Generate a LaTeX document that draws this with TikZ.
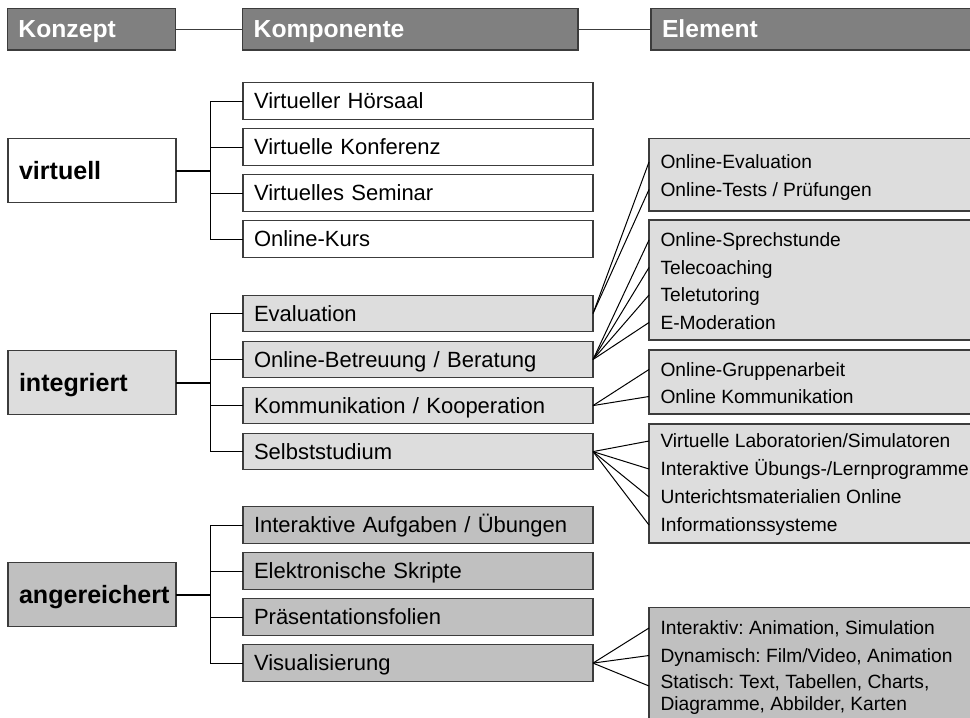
\documentclass[tikz,border=0pt]{standalone}
\usepackage{fontspec}
\setmainfont{Liberation Sans}
\usepackage{tikz}
\usetikzlibrary{positioning,calc}
\frenchspacing
\definecolor{hdgray}{HTML}{808080}
\definecolor{ltgray}{HTML}{DDDDDD}
\definecolor{mdgray}{HTML}{C0C0C0}
\definecolor{lngray}{HTML}{3C3C3C}
\tikzset{
	box/.style={draw=lngray, line width=0.9pt, outer sep=0pt},
	head/.style={box, fill=hdgray, text=white, anchor=west, align=left,
		font=\bfseries\fontsize{18.5}{21}\selectfont,
		minimum height=31.3pt, text height=13.2pt, text depth=0pt, inner xsep=8.25pt},
	konzept/.style={box, anchor=west, align=left, text width=109.5pt,
		font=\bfseries\fontsize{18.8}{21}\selectfont,
		minimum height=48pt, text height=13.4pt, text depth=0pt, inner xsep=8.25pt},
	komp/.style={box, align=left, text width=246pt,
		font=\fontsize{16.5}{19}\selectfont,
		minimum height=27.4pt, text height=11.8pt, text depth=0pt, inner xsep=8.25pt},
	elbox/.style={box, anchor=north west, minimum width=270pt},
	item/.style={anchor=west, inner xsep=8.25pt, inner ysep=0pt,
		text height=10.2pt, text depth=0pt, font=\fontsize{14.4}{16}\selectfont},
	virt/.style={fill=white},
	integ/.style={fill=ltgray},
	anger/.style={fill=mdgray},
	hdline/.style={draw=lngray, line width=1pt},
	stem/.style={line width=1.5pt}
}

\begin{document}
\begin{tikzpicture}[x=0.75pt,y=0.75pt,line width=0.75pt,node distance=9.5 and 9.5]
	\useasboundingbox (0,0) rectangle (970,-717);
	\clip (0,0) rectangle (970,-717);
	% Kopfzeile
	\node[head, text width=109.5pt] (konzepthd) at (7.5,-29.2) {Konzept};
	\node[head, text width=235pt] (komphd) at (242.7,-29.2) {Komponente};
	\node[head, text width=320pt] (elemhd) at (651,-29.2) {Element};
	\draw[hdline] (konzepthd) -- (komphd);
	\draw[hdline] (komphd) -- (elemhd);

	% virtuell
	\node[konzept, virt] (virtuell) at (8,-170.5) {virtuell};
	\node[komp, virt, anchor=west] (hoersaal) at (243,-101) {Virtueller Hörsaal};
	\node[komp, virt, below=of hoersaal] (konferenz) {Virtuelle Konferenz};
	\node[komp, virt, below=of konferenz] (seminar) {Virtuelles Seminar};
	\node[komp, virt, below=of seminar] (kurs) {Online-Kurs};
	\coordinate (vsplit) at (210,-170.5);
	\draw[stem] (virtuell) -- (vsplit);
	\draw (hoersaal.west) -| (vsplit |- kurs.west) -- (kurs.west);
	\foreach \k in {konferenz,seminar} \draw (\k.west) -- (\k.west -| vsplit);

	% integriert
	\node[konzept, integ] (integriert) at (8,-382.5) {integriert};
	\node[komp, integ, anchor=west] (evaluation) at (243,-313.5) {Evaluation};
	\node[komp, integ, below=of evaluation] (betreuung) {Online-Betreuung / Beratung};
	\node[komp, integ, below=of betreuung] (kommunikation) {Kommunikation / Kooperation};
	\node[komp, integ, below=of kommunikation] (selbst) {Selbststudium};
	\coordinate (isplit) at (210,-382.5);
	\draw[stem] (integriert) -- (isplit);
	\draw (evaluation.west) -| (isplit |- selbst.west) -- (selbst.west);
	\foreach \k in {betreuung,kommunikation} \draw (\k.west) -- (\k.west -| isplit);

	% angereichert
	\node[konzept, anger] (angereichert) at (8,-594.5) {angereichert};
	\node[komp, anger, anchor=west] (aufgaben) at (243,-525) {Interaktive Aufgaben / Übungen};
	\node[komp, anger, below=of aufgaben] (skripte) {Elektronische Skripte};
	\node[komp, anger, below=of skripte] (folien) {Präsentationsfolien};
	\node[komp, anger, below=of folien] (visual) {Visualisierung};
	\coordinate (asplit) at (210,-594.5);
	\draw[stem] (angereichert) -- (asplit);
	\draw (aufgaben.west) -| (asplit |- visual.west) -- (visual.west);
	\foreach \k in {skripte,folien} \draw (\k.west) -- (\k.west -| asplit);

	% Elemente
	\node[elbox, integ, minimum height=54.5pt] (evalbox) at (649,-138.3) {};
	\node[item] (oeval) at (649,-162) {Online-Evaluation};
	\node[item] (otests) at (649,-189.5) {Online-Tests / Prüfungen};

	\node[elbox, integ, minimum height=90pt] (betrbox) at (649,-220) {};
	\node[item] (sprech) at (649,-240) {Online-Sprechstunde};
	\node[item] (coach) at (649,-267.5) {Telecoaching};
	\node[item] (tutor) at (649,-295) {Teletutoring};
	\node[item] (moder) at (649,-322.5) {E-Moderation};

	\node[elbox, integ, minimum height=48pt] (kommbox) at (649,-350) {};
	\node[item] (gruppe) at (649,-369.5) {Online-Gruppenarbeit};
	\node[item] (okomm) at (649,-396.5) {Online Kommunikation};

	\node[elbox, integ, minimum height=89.25pt] (selbstbox) at (649,-424) {};
	\node[item] (labor) at (649,-441) {Virtuelle Laboratorien/Simulatoren};
	\node[item] (lernprog) at (649,-469) {Interaktive Übungs-/Lernprogramme};
	\node[item] (unterricht) at (649,-497) {Unterichtsmaterialien Online};
	\node[item] (info) at (649,-525) {Informationssysteme};

	\node[elbox, anger, minimum height=105pt] (visbox) at (649,-607.7) {};
	\node[item] (interaktiv) at (649,-628) {Interaktiv: Animation, Simulation};
	\node[item] (dynamisch) at (649,-655.5) {Dynamisch: Film/Video, Animation};
	\node[item] (statisch) at (649,-682) {Statisch: Text, Tabellen, Charts,};
	\node[item] (diagramme) at (649,-703.5) {Diagramme, Abbilder, Karten};

	\foreach \e in {oeval,otests} \draw (evaluation.east) -- (\e.west);
	\foreach \e in {sprech,coach,tutor,moder} \draw (betreuung.east) -- (\e.west);
	\foreach \e in {gruppe,okomm} \draw (kommunikation.east) -- (\e.west);
	\foreach \e in {labor,lernprog,unterricht,info} \draw (selbst.east) -- (\e.west);
	\foreach \e in {interaktiv,dynamisch} \draw (visual.east) -- (\e.west);
	\draw (visual.east) -- ([yshift=-3pt]statisch.west);
\end{tikzpicture}
\end{document}
